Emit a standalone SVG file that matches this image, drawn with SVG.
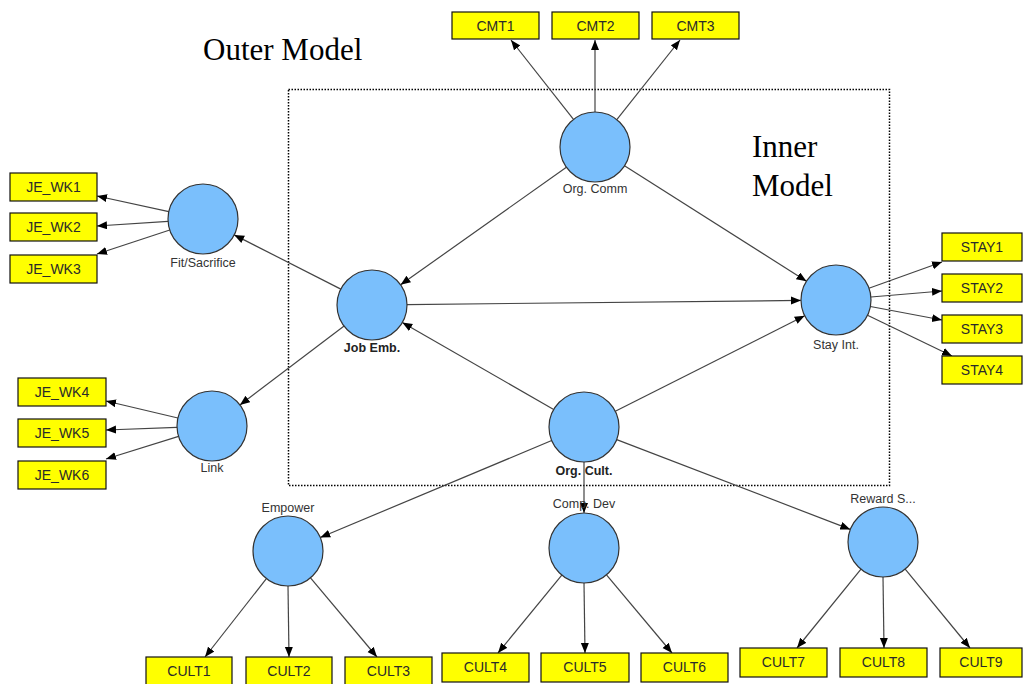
<svg xmlns="http://www.w3.org/2000/svg" width="1023" height="684" viewBox="0 0 1023 684">
<defs>
<marker id="ah" markerWidth="11" markerHeight="9" refX="10" refY="4" orient="auto" markerUnits="userSpaceOnUse">
<path d="M0,0 L10,4 L0,8 z" fill="#000"/>
</marker>
<style>
.lv circle{fill:#7abffc;stroke:#333;stroke-width:1.2}
.lv text{font-family:"Liberation Sans",Arial,sans-serif;font-size:12.5px;fill:#333;text-anchor:middle}
.lv text.b{font-weight:bold;fill:#222}
.ind rect{fill:#ffff00;stroke:#111;stroke-width:1.2}
.ind text{font-family:"Liberation Sans",Arial,sans-serif;font-size:14px;fill:#2a2a2a;text-anchor:middle}
#connectors line{stroke:#444;stroke-width:1.2;marker-end:url(#ah)}
.title{font-family:"Liberation Serif","Times New Roman",serif;font-size:31px;fill:#000}
</style>
</defs>
<rect width="1023" height="684" fill="#fff"/>
<rect x="288.5" y="89.5" width="601" height="396" fill="none" stroke="#000" stroke-width="1.5" stroke-dasharray="1.5,1.5"/>
<text class="title" x="203" y="59.5">Outer Model</text>
<text class="title" x="752" y="157">Inner</text>
<text class="title" x="752" y="196">Model</text>
<g id="connectors">
<line x1="573.5" y1="119.4" x2="511" y2="40"/>
<line x1="595" y1="112" x2="595" y2="40"/>
<line x1="616.8" y1="119.6" x2="680" y2="40"/>
<line x1="566.4" y1="167.2" x2="400.6" y2="284.8"/>
<line x1="624.5" y1="165.8" x2="806.5" y2="281.2"/>
<line x1="407" y1="304.6" x2="801" y2="300.4"/>
<line x1="553.7" y1="409.5" x2="402.3" y2="322.5"/>
<line x1="615.3" y1="411.2" x2="804.7" y2="315.8"/>
<line x1="340.8" y1="289.1" x2="234.2" y2="234.9"/>
<line x1="344.1" y1="326.1" x2="239.9" y2="404.9"/>
<line x1="168.8" y1="211.6" x2="97" y2="196"/>
<line x1="168.1" y1="221.3" x2="97" y2="226"/>
<line x1="169.8" y1="230" x2="97" y2="254"/>
<line x1="177.9" y1="418" x2="106" y2="401"/>
<line x1="177" y1="427.3" x2="106" y2="430"/>
<line x1="178.6" y1="436.4" x2="106" y2="459"/>
<line x1="868.9" y1="288.2" x2="942" y2="262"/>
<line x1="870.9" y1="297" x2="942" y2="291"/>
<line x1="870.4" y1="306.5" x2="942" y2="320"/>
<line x1="867.5" y1="315.2" x2="952" y2="356"/>
<line x1="551.7" y1="440.5" x2="320.3" y2="537.5"/>
<line x1="584" y1="462" x2="584" y2="513"/>
<line x1="616.7" y1="439.6" x2="850.3" y2="529.4"/>
<line x1="266.4" y1="578.6" x2="205" y2="657"/>
<line x1="288" y1="586" x2="289" y2="657"/>
<line x1="310.5" y1="577.8" x2="377" y2="657"/>
<line x1="561.8" y1="575.1" x2="498" y2="653"/>
<line x1="584" y1="583" x2="585" y2="653"/>
<line x1="606.5" y1="574.8" x2="672" y2="653"/>
<line x1="861" y1="569.2" x2="797" y2="648"/>
<line x1="883" y1="577" x2="884" y2="648"/>
<line x1="905.2" y1="569.1" x2="970" y2="648"/>
</g>
<g id="org-comm" class="lv"><circle cx="595" cy="147" r="35"/><text x="595" y="193">Org. Comm</text></g>
<g id="fit-sacrifice" class="lv"><circle cx="203" cy="219" r="35"/><text x="203" y="267">Fit/Sacrifice</text></g>
<g id="link" class="lv"><circle cx="212" cy="426" r="35"/><text x="212" y="472">Link</text></g>
<g id="job-emb" class="lv"><circle cx="372" cy="305" r="35"/><text class="b" x="372" y="352">Job Emb.</text></g>
<g id="org-cult" class="lv"><circle cx="584" cy="427" r="35"/><text class="b" x="584" y="475">Org. Cult.</text></g>
<g id="stay-int" class="lv"><circle cx="836" cy="300" r="35"/><text x="836" y="349">Stay Int.</text></g>
<g id="empower" class="lv"><circle cx="288" cy="551" r="35"/><text x="288" y="512">Empower</text></g>
<g id="comp-dev" class="lv"><circle cx="584" cy="548" r="35"/><text x="584" y="508">Comp. Dev</text></g>
<g id="reward" class="lv"><circle cx="883" cy="542" r="35"/><text x="883" y="503">Reward S...</text></g>
<g id="cmt1" class="ind"><rect x="452" y="12" width="87" height="27"/><text x="495.5" y="30.5">CMT1</text></g>
<g id="cmt2" class="ind"><rect x="552" y="12" width="87" height="27"/><text x="595.5" y="30.5">CMT2</text></g>
<g id="cmt3" class="ind"><rect x="652" y="12" width="87" height="27"/><text x="695.5" y="30.5">CMT3</text></g>
<g id="je_wk1" class="ind"><rect x="10" y="173" width="87" height="28"/><text x="53.5" y="192">JE_WK1</text></g>
<g id="je_wk2" class="ind"><rect x="10" y="213" width="87" height="28"/><text x="53.5" y="232">JE_WK2</text></g>
<g id="je_wk3" class="ind"><rect x="10" y="255" width="87" height="28"/><text x="53.5" y="274">JE_WK3</text></g>
<g id="je_wk4" class="ind"><rect x="18" y="378" width="88" height="28"/><text x="62" y="397">JE_WK4</text></g>
<g id="je_wk5" class="ind"><rect x="18" y="419" width="88" height="28"/><text x="62" y="438">JE_WK5</text></g>
<g id="je_wk6" class="ind"><rect x="18" y="461" width="88" height="28"/><text x="62" y="480">JE_WK6</text></g>
<g id="stay1" class="ind"><rect x="942" y="233" width="80" height="28"/><text x="982" y="252">STAY1</text></g>
<g id="stay2" class="ind"><rect x="942" y="274" width="80" height="28"/><text x="982" y="293">STAY2</text></g>
<g id="stay3" class="ind"><rect x="942" y="315" width="80" height="28"/><text x="982" y="334">STAY3</text></g>
<g id="stay4" class="ind"><rect x="942" y="356" width="80" height="28"/><text x="982" y="375">STAY4</text></g>
<g id="cult1" class="ind"><rect x="146" y="657" width="86" height="29"/><text x="189" y="676">CULT1</text></g>
<g id="cult2" class="ind"><rect x="246" y="657" width="86" height="29"/><text x="289" y="676">CULT2</text></g>
<g id="cult3" class="ind"><rect x="345" y="657" width="87" height="29"/><text x="388.5" y="676">CULT3</text></g>
<g id="cult4" class="ind"><rect x="442" y="653" width="87" height="29"/><text x="485.5" y="672">CULT4</text></g>
<g id="cult5" class="ind"><rect x="541" y="653" width="88" height="29"/><text x="585" y="672">CULT5</text></g>
<g id="cult6" class="ind"><rect x="641" y="653" width="87" height="29"/><text x="684.5" y="672">CULT6</text></g>
<g id="cult7" class="ind"><rect x="740" y="648" width="87" height="29"/><text x="783.5" y="667">CULT7</text></g>
<g id="cult8" class="ind"><rect x="840" y="648" width="87" height="29"/><text x="883.5" y="667">CULT8</text></g>
<g id="cult9" class="ind"><rect x="940" y="648" width="82" height="29"/><text x="981" y="667">CULT9</text></g>
</svg>
